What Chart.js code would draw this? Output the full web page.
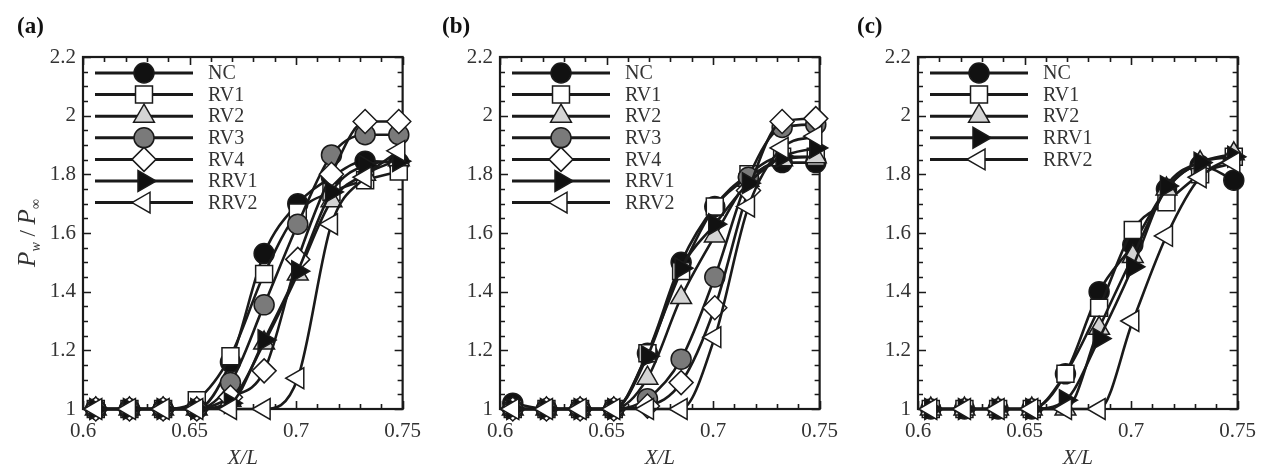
<!DOCTYPE html>
<html><head><meta charset="utf-8">
<script src="https://cdn.jsdelivr.net/npm/chart.js@4.4.1/dist/chart.umd.min.js"></script>
<style>
html,body{margin:0;padding:0;background:#fff;width:1278px;height:472px;overflow:hidden}
canvas{position:absolute;top:0}
</style></head><body>
<canvas id="ca" width="431" height="472" style="left:0px"></canvas>
<canvas id="cb" width="431" height="472" style="left:417px"></canvas>
<canvas id="cc" width="431" height="472" style="left:835px"></canvas>
<script>
// ---- data ----
const xPositions = [0.606, 0.6218, 0.6376, 0.6534, 0.6692, 0.685, 0.7008, 0.7166, 0.7324, 0.7482];
const xTickValues = [0.6, 0.65, 0.7, 0.75];
const yTickValues = [1, 1.2, 1.4, 1.6, 1.8, 2, 2.2];
const panelLabels = ['(a)', '(b)', '(c)'];

// panel (a)
const a_NC   = [1, 1, 1, 1, 1.16, 1.53, 1.70, 1.79, 1.845, 1.84];
const a_RV1  = [1, 1, 1, 1.03, 1.18, 1.46, 1.67, 1.74, 1.78, 1.81];
const a_RV2  = [1, 1, 1, 1, 1.03, 1.225, 1.46, 1.71, 1.80, 1.85];
const a_RV3  = [1, 1, 1, 1, 1.09, 1.355, 1.63, 1.866, 1.935, 1.935];
const a_RV4  = [1, 1, 1, 1, 1.04, 1.13, 1.51, 1.80, 1.98, 1.98];
const a_RRV1 = [1, 1, 1, 1, 1.02, 1.235, 1.47, 1.74, 1.83, 1.845];
const a_RRV2 = [1, 1, 1, 1, 1.0, 1.0, 1.105, 1.63, 1.79, 1.88];

// panel (b)
const b_NC   = [1.02, 1, 1, 1, 1.19, 1.50, 1.69, 1.79, 1.84, 1.84];
const b_RV1  = [1, 1, 1, 1, 1.19, 1.47, 1.69, 1.80, 1.86, 1.86];
const b_RV2  = [1, 1, 1, 1, 1.105, 1.38, 1.59, 1.78, 1.85, 1.86];
const b_RV3  = [1, 1, 1, 1, 1.035, 1.17, 1.45, 1.79, 1.96, 1.97];
const b_RV4  = [1, 1, 1, 1, 1.01, 1.09, 1.345, 1.745, 1.98, 1.99];
const b_RRV1 = [1, 1, 1, 1, 1.18, 1.48, 1.63, 1.77, 1.86, 1.89];
const b_RRV2 = [1, 1, 1, 1, 1.0, 1.0, 1.245, 1.69, 1.89, 1.93];

// panel (c)
const c_NC   = [1, 1, 1, 1, 1.12, 1.40, 1.56, 1.75, 1.83, 1.78];
const c_RV1  = [1, 1, 1, 1, 1.12, 1.345, 1.61, 1.705, 1.80, 1.86];
const c_RV2  = [1, 1, 1, 1, 1.0, 1.275, 1.52, 1.75, 1.84, 1.87];
const c_RRV1 = [1, 1, 1, 1, 1.03, 1.24, 1.485, 1.76, 1.84, 1.86];
const c_RRV2 = [1, 1, 1, 1, 1.0, 1.0, 1.30, 1.59, 1.79, 1.84];

const panelA = {NC: a_NC, RV1: a_RV1, RV2: a_RV2, RV3: a_RV3, RV4: a_RV4, RRV1: a_RRV1, RRV2: a_RRV2};
const panelB = {NC: b_NC, RV1: b_RV1, RV2: b_RV2, RV3: b_RV3, RV4: b_RV4, RRV1: b_RRV1, RRV2: b_RRV2};
const panelC = {NC: c_NC, RV1: c_RV1, RV2: c_RV2, RRV1: c_RRV1, RRV2: c_RRV2};

// ---- styles ----
const styles = {
  NC:   {pointStyle: 'circle',   rotation: 0,   radius: 10, fill: '#111111'},
  RV1:  {pointStyle: 'rect',     rotation: 0,   radius: 12, fill: '#ffffff'},
  RV2:  {pointStyle: 'triangle', rotation: 0,   radius: 12, fill: '#d4d4d4'},
  RV3:  {pointStyle: 'circle',   rotation: 0,   radius: 10, fill: '#7a7a7a'},
  RV4:  {pointStyle: 'rectRot',  rotation: 0,   radius: 12, fill: '#ffffff'},
  RRV1: {pointStyle: 'triangle', rotation: 90,  radius: 12, fill: '#111111'},
  RRV2: {pointStyle: 'triangle', rotation: 270, radius: 12, fill: '#ffffff'}
};
const SERIF = '"Liberation Serif", "DejaVu Serif", serif';
const INK = '#1a1a1a';
const TXT = '#333333';

const framePlugin = {
  id: 'frame',
  beforeDatasetsDraw(chart) {
    const {ctx, chartArea: ca, scales} = chart;
    ctx.save();
    ctx.strokeStyle = INK;
    ctx.lineWidth = 1.6;
    for (let k = 0; k <= 15; k++) {
      const v = 0.6 + k * 0.01;
      const px = Math.round(scales.x.getPixelForValue(v)) + 0.5;
      const len = (k % 5 === 0) ? 8 : 5;
      ctx.beginPath();
      ctx.moveTo(px, ca.bottom); ctx.lineTo(px, ca.bottom - len);
      ctx.moveTo(px, ca.top); ctx.lineTo(px, ca.top + len);
      ctx.stroke();
    }
    for (let k = 0; k <= 24; k++) {
      const v = 1 + k * 0.05;
      const py = Math.round(scales.y.getPixelForValue(v)) + 0.5;
      const len = (k % 4 === 0) ? 8 : 5;
      ctx.beginPath();
      ctx.moveTo(ca.left, py); ctx.lineTo(ca.left + len, py);
      ctx.moveTo(ca.right, py); ctx.lineTo(ca.right - len, py);
      ctx.stroke();
    }
    ctx.lineWidth = 2.2;
    ctx.strokeRect(ca.left, ca.top, ca.right - ca.left, ca.bottom - ca.top);
    ctx.restore();
  },
  afterDraw(chart) {
    const {ctx, chartArea: ca} = chart;
    const o = chart.options.plugins.frame;
    ctx.save();
    ctx.fillStyle = '#111';
    ctx.font = 'bold 23px ' + SERIF;
    ctx.textBaseline = 'middle';
    ctx.textAlign = 'left';
    ctx.fillText(o.label, ca.left + o.labelDx, 27);
    ctx.fillStyle = TXT;
    ctx.font = 'italic 21px ' + SERIF;
    ctx.textAlign = 'center';
    ctx.fillText('X/L', (ca.left + ca.right) / 2, 458);
    if (o.yTitle) {
      ctx.translate(26, 233);
      ctx.rotate(-Math.PI / 2);
      ctx.textAlign = 'left';
      ctx.textBaseline = 'alphabetic';
      const parts = [
        {t: 'P', f: 'italic 25px ' + SERIF, dy: 0},
        {t: 'w', f: 'italic 14px ' + SERIF, dy: 5},
        {t: ' / ', f: '23px ' + SERIF, dy: 0},
        {t: 'P', f: 'italic 25px ' + SERIF, dy: 0},
        {t: '\u221E', f: '14px ' + SERIF, dy: 5}
      ];
      let w = 0;
      parts.forEach(p => { ctx.font = p.f; w += ctx.measureText(p.t).width; });
      let x = -w / 2;
      parts.forEach(p => { ctx.font = p.f; ctx.fillText(p.t, x, 9 + p.dy); x += ctx.measureText(p.t).width; });
    }
    ctx.restore();
  }
};

const legendPlugin = {
  id: 'boxLegend',
  afterDraw(chart) {
    const {ctx, chartArea: ca} = chart;
    ctx.save();
    chart.data.datasets.forEach((ds, i) => {
      const y = ca.top + 16 + i * 21.6;
      ctx.strokeStyle = INK;
      ctx.lineWidth = 3;
      ctx.beginPath();
      ctx.moveTo(ca.left + 12, y); ctx.lineTo(ca.left + 110, y);
      ctx.stroke();
      ctx.fillStyle = ds.pointBackgroundColor;
      ctx.strokeStyle = INK;
      ctx.lineWidth = 1.5;
      Chart.helpers.drawPoint(ctx, {pointStyle: ds.pointStyle, rotation: ds.pointRotation, radius: ds.pointRadius, borderWidth: 1.5}, ca.left + 61, y);
      ctx.fillStyle = TXT;
      ctx.font = '20px ' + SERIF;
      ctx.textAlign = 'left';
      ctx.textBaseline = 'middle';
      ctx.fillText(ds.label, ca.left + 125, y + 1);
    });
    ctx.restore();
  }
};

function makeChart(id, panel, label, labelDx, yTitle) {
  const names = Object.keys(panel);
  const datasets = names.map((name, i) => {
    const s = styles[name];
    return {
      label: name,
      data: xPositions.map((x, k) => ({x: x, y: panel[name][k]})),
      borderColor: INK,
      borderWidth: 2.6,
      pointStyle: s.pointStyle,
      pointRotation: s.rotation,
      pointRadius: s.radius,
      pointBackgroundColor: s.fill,
      pointBorderColor: INK,
      pointBorderWidth: 1.5,
      cubicInterpolationMode: 'monotone',
      fill: false,
      clip: false,
      order: -i
    };
  });
  return new Chart(document.getElementById(id), {
    type: 'line',
    data: {datasets},
    options: {
      responsive: false,
      animation: false,
      events: [],
      layout: {padding: {top: 57, right: 12, left: 0, bottom: 0}},
      plugins: {
        legend: {display: false},
        tooltip: {enabled: false},
        frame: {label, labelDx, yTitle}
      },
      scales: {
        x: {
          type: 'linear', min: 0.6, max: 0.75,
          afterBuildTicks: (sc) => { sc.ticks = xTickValues.map(v => ({value: v})); },
          afterFit: (sc) => { sc.height = 63; },
          grid: {display: false, drawTicks: false},
          border: {display: false},
          ticks: {padding: 10, color: TXT, font: {family: SERIF, size: 21},
                  callback: (v) => String(Math.round(v * 1000) / 1000)}
        },
        y: {
          type: 'linear', min: 1, max: 2.2,
          afterBuildTicks: (sc) => { sc.ticks = yTickValues.map(v => ({value: v})); },
          afterFit: (sc) => { sc.width = 83; },
          grid: {display: false, drawTicks: false},
          border: {display: false},
          ticks: {padding: 7, color: TXT, font: {family: SERIF, size: 21},
                  callback: (v) => String(Math.round(v * 1000) / 1000)}
        }
      }
    },
    plugins: [framePlugin, legendPlugin]
  });
}

makeChart('ca', panelA, panelLabels[0], -66, true);
makeChart('cb', panelB, panelLabels[1], -58, false);
makeChart('cc', panelC, panelLabels[2], -61, false);
</script>
</body></html>
